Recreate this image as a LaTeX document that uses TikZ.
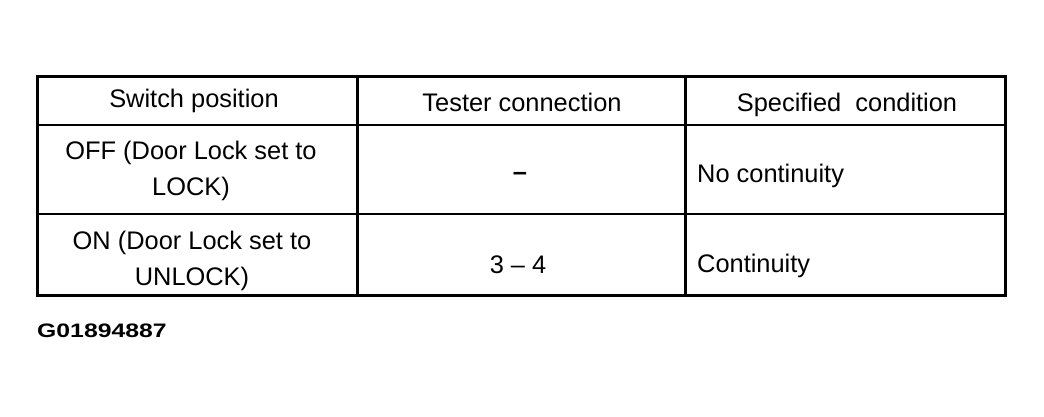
\documentclass[tikz,border=0pt]{standalone}
\usepackage{fontspec}
\setmainfont{Liberation Sans}
\usetikzlibrary{positioning}

\begin{document}
\begin{tikzpicture}[x=1pt,y=-1pt,cap=rect,
        cell/.style={font=\fontsize{25.4}{36}\selectfont,inner sep=0pt,align=center},
        rule/.style={line width=3pt},
        thinrule/.style={line width=2.2pt}]
        % fix the page size
        \useasboundingbox (0,0) rectangle (1044,416);

        % draw the frame and the column lines
        \draw[rule] (37.5,76.5) rectangle (1005.5,295.5);
        \foreach \x in {357.5,685.5}
                \draw[rule] (\x,76.5) -- (\x,295.5);

        % draw the row lines
        \foreach \y in {125,214}
                \draw[thinrule] (37.5,\y) -- (1005.5,\y);

        % header row
        \node[cell] (headswitch) at (194,101) {Switch position};
        \node[cell] (headtester) at (522,102) {Tester connection};
        \node[cell] (headcond)   at (847,105) {Specified\ \ condition};

        % first row
        \node[cell] (offpos)  at (191,171) {OFF (Door Lock set to\\LOCK)};
        \node[cell] (offtest) at (520,176) {\textbf{--}};
        \node[cell,anchor=west] (offcond) at (697,176) {No continuity};

        % second row
        \node[cell] (onpos)  at (192,261) {ON (Door Lock set to\\UNLOCK)};
        \node[cell] (ontest) at (518,265) {3 -- 4};
        \node[cell,anchor=west] (oncond) at (697,266) {Continuity};

        % figure number
        \node[anchor=west,inner sep=0pt,font=\fontsize{19.5}{22}\bfseries] (fignum) at (37,331)
                {\scalebox{1.27}[1]{G01894887}};
\end{tikzpicture}
\end{document}
